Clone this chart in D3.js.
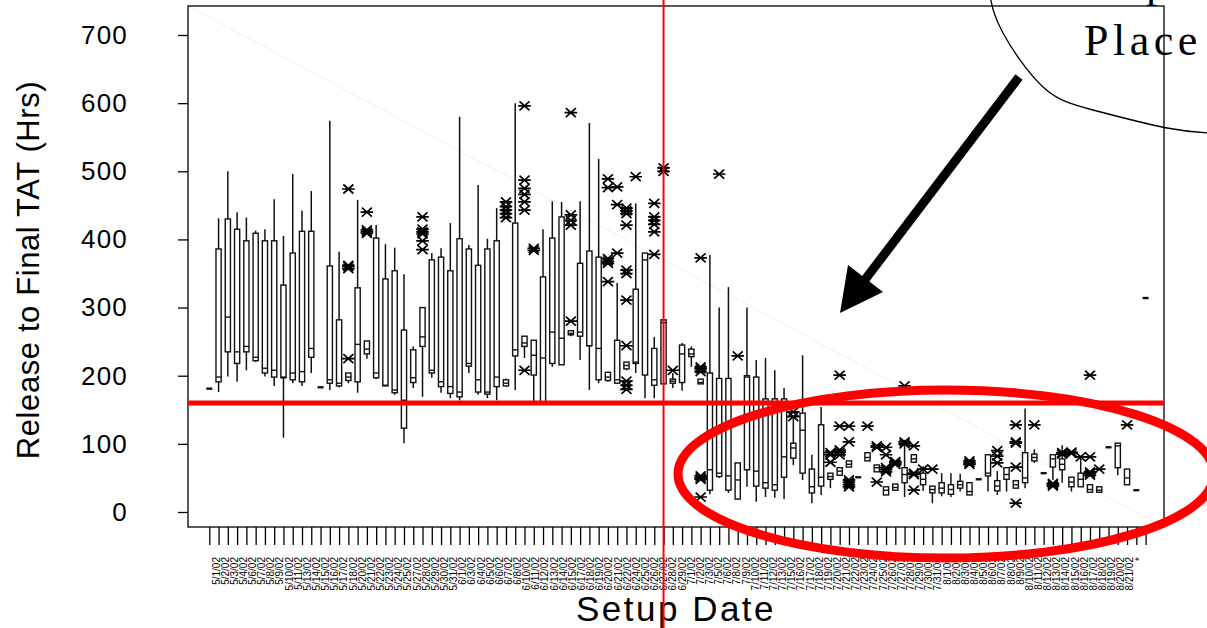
<!DOCTYPE html>
<html>
<head>
<meta charset="utf-8">
<script src="https://cdn.jsdelivr.net/npm/d3@7"></script>
<style>
body { margin: 0; background: #fff; }
svg { display: block; font-family: Arial, "Liberation Sans", sans-serif; }
</style>
</head>
<body>
<svg></svg>
<script>
const width = 1207;
const height = 628;

// Setup dates (x categories)
const dates = [
  "5/1/02","5/2/02","5/3/02","5/4/02","5/6/02","5/7/02","5/8/02","5/9/02","5/10/02","5/11/02",
  "5/13/02","5/14/02","5/15/02","5/16/02","5/17/02","5/18/02","5/20/02","5/21/02","5/22/02","5/23/02",
  "5/24/02","5/25/02","5/27/02","5/28/02","5/29/02","5/30/02","5/31/02",
  "6/1/02","6/3/02","6/4/02","6/5/02","6/6/02","6/7/02","6/8/02","6/10/02","6/11/02","6/12/02",
  "6/13/02","6/14/02","6/15/02","6/17/02","6/18/02","6/19/02","6/20/02","6/21/02","6/22/02","6/24/02",
  "6/25/02","6/26/02","6/27/02","6/28/02","6/29/02",
  "7/1/02","7/2/02","7/3/02","7/5/02","7/6/02","7/8/02","7/9/02","7/10/02","7/11/02","7/12/02",
  "7/13/02","7/15/02","7/16/02","7/17/02","7/18/02","7/19/02","7/20/02","7/21/02","7/22/02","7/23/02",
  "7/24/02","7/25/02","7/26/02","7/27/02","7/28/02","7/29/02","7/30/02","7/31/02",
  "8/1/02","8/2/02","8/3/02","8/4/02","8/5/02","8/6/02","8/7/02","8/8/02","8/9/02","8/10/02",
  "8/11/02","8/12/02","8/13/02","8/14/02","8/15/02","8/16/02","8/17/02","8/18/02","8/19/02","8/20/02",
  "8/21/02","*"
];

// box plot statistics, one value per date (hours)
const whiskerLow = [180,176,199,191,208,220,199,185,109,189,185,204,183,179,183,189,175,225,195,185,
  172,101,182,169,197,175,167,164,204,172,167,164,184,179,226,160,160,213,216,258,
  223,179,189,191,189,208,204,167,167,188,182,178,213,188,26,50,28,18,37,15,
  22,21,19,69,47,13,25,35,54,66,51,75,59,25,32,22,73,31,13,23,
  22,30,25,48,30,25,30,35,35,72,57,47,43,30,37,29,29,95,54,40,32,314];
const boxLow = [180,191,235,218,235,222,204,198,197,194,191,227,183,189,185,193,191,232,197,185,
  175,123,190,243,204,184,174,169,214,176,173,184,185,229,243,201,161,218,216,260,
  258,244,194,193,189,210,218,201,186,188,189,190,228,188,32,52,32,19,62,38,
  35,32,51,79,57,28,38,48,54,66,51,75,59,25,32,43,73,40,28,28,
  26,35,25,48,53,31,48,35,43,75,57,66,62,37,37,29,29,95,65,40,32,314];
const median = [181,198,286,235,243,227,211,208,198,204,206,240,183,194,189,198,246,239,204,186,
  179,164,197,257,208,191,184,176,218,194,176,198,189,238,248,230,226,264,255,262,
  264,244,240,198,194,215,220,370,194,278,192,232,232,190,62,57,53,47,198,60,
  43,40,81,94,120,37,51,52,60,70,51,80,65,32,36,55,78,48,33,35,
  33,40,30,48,57,38,55,40,50,80,57,78,70,44,48,33,32,95,97,50,32,314];
const boxHigh = [181,386,430,415,398,409,398,398,333,380,412,412,184,361,282,204,329,251,402,342,
  354,267,238,300,370,374,354,401,386,362,386,398,194,424,258,252,345,402,433,266,
  365,383,374,205,252,220,327,380,240,282,195,245,239,195,204,196,196,72,200,198,
  166,166,166,101,145,63,128,57,65,75,52,87,69,37,41,65,84,57,38,43,
  40,45,43,49,84,46,65,46,87,85,58,84,78,51,57,40,37,96,101,63,33,315];
const whiskerHigh = [181,431,500,440,432,413,415,459,405,496,442,471,184,574,382,204,458,251,421,393,
  388,349,243,300,380,387,424,580,392,480,401,446,196,600,258,252,415,456,455,266,
  456,571,518,205,336,220,453,380,257,282,204,248,243,195,377,300,330,72,300,223,
  226,208,182,138,230,84,154,57,65,75,52,87,69,37,41,106,84,67,38,57,
  57,56,43,49,84,60,66,46,152,92,58,84,98,51,81,40,37,96,101,63,33,315];

// outliers: [date index, values]
const outliers = [
  [15, [474,362,360,357,225]], [17, [440,414,411,409]], [23, [433,415,411,408,398,385]],
  [32, [455,448,443,438,432]], [34, [596,487,475,466,455,443,208]], [35, [387,384]],
  [39, [586,436,428,421,280]], [43, [489,476,372,368,365,338]], [44, [477,451,380]],
  [45, [446,442,438,421,355,350,311,244,192,186,180]], [46, [492]],
  [48, [453,433,428,422,411,378]], [49, [505,500]], [50, [208]],
  [53, [373,213,210,206,53,50,48,22]], [55, [496]], [57, [229]], [63, [147,140]],
  [67, [87,84,73]], [68, [201,126,91,88,84]], [69, [126,103,47,44,40,37]], [71, [126]],
  [72, [97,95,44]], [73, [95,84,65,62,59]], [74, [74,72,70]], [75, [185,103,100]],
  [76, [97,57,55,32]], [77, [63]], [78, [63]], [82, [75,72,70]], [85, [90,82,72]],
  [87, [128,103,101,66,13]], [89, [128]], [91, [42,40,38]], [92, [87,85]], [93, [88,86]],
  [94, [81]], [95, [201,81,59,57,54]], [96, [63]], [99, [128]]
];

const yTicks = [0, 100, 200, 300, 400, 500, 600, 700];
const targetTAT = 160;
const changeDate = "6/27/02";

const svg = d3.select("svg")
    .attr("width", width)
    .attr("height", height);

const frame = {left: 188, top: 6, right: 1164, bottom: 527};

const x = d3.scalePoint().domain(dates).range([209.3, 1145.6]);
const xLabel = d3.scalePoint().domain(dates).range([216, 1139]);
const y = d3.scaleLinear().domain([0, 700]).range([512, 35]);

// faint diagonal across the plot
svg.append("line")
    .attr("x1", frame.left).attr("y1", frame.top)
    .attr("x2", frame.right).attr("y2", frame.bottom)
    .attr("stroke", "#e6e6f0")
    .attr("stroke-width", 0.7);

// plot frame
svg.append("rect")
    .attr("x", frame.left).attr("y", frame.top)
    .attr("width", frame.right - frame.left)
    .attr("height", frame.bottom - frame.top)
    .attr("fill", "none")
    .attr("stroke", "#000")
    .attr("stroke-width", 1.3);

// y axis
const yAxis = svg.append("g")
    .attr("transform", `translate(${frame.left},0)`)
    .call(d3.axisLeft(y).tickValues(yTicks).tickSize(10).tickSizeOuter(0).tickPadding(50));
yAxis.select(".domain").remove();
yAxis.selectAll("line").attr("stroke-width", 1.3);
yAxis.selectAll("text")
    .attr("font-size", 26)
    .attr("font-family", "Arial, 'Liberation Sans', sans-serif")
    .attr("letter-spacing", 1.2)
    .attr("fill", "#000");

// x axis ticks
const xAxis = svg.append("g")
    .attr("transform", `translate(0,${frame.bottom})`)
    .call(d3.axisBottom(x).tickSize(18).tickSizeOuter(0).tickFormat(""));
xAxis.select(".domain").remove();
xAxis.selectAll("line").attr("stroke-width", 1.3);

// x tick labels
svg.append("g")
    .selectAll("text")
    .data(dates)
    .enter().append("text")
    .attr("transform", d => `translate(${xLabel(d)},557) rotate(-90)`)
    .attr("dy", "0.35em")
    .attr("text-anchor", "end")
    .attr("font-size", 10)
    .attr("fill", "#000")
    .text(d => d);

// axis titles
svg.append("text")
    .attr("transform", "translate(39,270) rotate(-90)")
    .attr("text-anchor", "middle")
    .attr("font-size", 31)
    .attr("letter-spacing", 0.6)
    .text("Release to Final TAT (Hrs)");

svg.append("text")
    .attr("x", 676)
    .attr("y", 621)
    .attr("text-anchor", "middle")
    .attr("font-size", 35)
    .attr("letter-spacing", 2.5)
    .text("Setup Date");

// box plots
const boxes = dates.map((d, i) => ({
    date: d, lo: whiskerLow[i], q1: boxLow[i], med: median[i], q3: boxHigh[i], hi: whiskerHigh[i]
}));

const bw = 5.2;
const box = svg.append("g").selectAll("g")
    .data(boxes)
    .enter().append("g")
    .attr("transform", d => `translate(${x(d.date)},0)`);

const full = box.filter(d => d.q3 - d.q1 > 1);
full.append("line")
    .attr("y1", d => y(d.lo)).attr("y2", d => y(d.hi))
    .attr("stroke", "#111").attr("stroke-width", 1.5);
full.append("rect")
    .attr("x", -bw / 2).attr("width", bw)
    .attr("y", d => y(d.q3))
    .attr("height", d => y(d.q1) - y(d.q3))
    .attr("fill", "#fff")
    .attr("stroke", "#111").attr("stroke-width", 1.4);
full.append("line")
    .attr("x1", -bw / 2).attr("x2", bw / 2)
    .attr("y1", d => y(d.med)).attr("y2", d => y(d.med))
    .attr("stroke", "#111").attr("stroke-width", 1.4);

box.filter(d => d.q3 - d.q1 <= 1).append("rect")
    .attr("x", -3).attr("width", 6)
    .attr("y", d => y(d.med) - 1.2)
    .attr("height", 2.4)
    .attr("fill", "#111");

// outlier asterisks
const outlierPoints = [];
outliers.forEach(([i, vals]) => vals.forEach(v => outlierPoints.push({date: dates[i], v})));
svg.append("g").selectAll("path")
    .data(outlierPoints)
    .enter().append("path")
    .attr("transform", d => `translate(${x(d.date)},${y(d.v)})`)
    .attr("d", "M-6.3,0H6.3M-5,-4.5L5,4.5M-5,4.5L5,-4.5")
    .attr("stroke", "#000")
    .attr("stroke-width", 1.7)
    .attr("fill", "none");

// target line
svg.append("line")
    .attr("x1", frame.left).attr("x2", frame.right)
    .attr("y1", y(targetTAT)).attr("y2", y(targetTAT))
    .attr("stroke", "#ff0000")
    .attr("stroke-width", 5);

// arrow annotation
svg.append("line")
    .attr("x1", 1019).attr("y1", 77)
    .attr("x2", 864).attr("y2", 281)
    .attr("stroke", "#000")
    .attr("stroke-width", 9);
svg.append("path")
    .attr("d", "M840,313L848,265L883,292Z")
    .attr("fill", "#000");

// callout bubble in the corner
svg.append("path")
    .attr("d", d3.line().curve(d3.curveNatural)([[990,-4],[1003,33],[1043,87],[1093,110],[1167,128],[1212,133]]))
    .attr("fill", "none")
    .attr("stroke", "#000")
    .attr("stroke-width", 1.3);
svg.append("text")
    .attr("x", 1146).attr("y", -3)
    .attr("font-family", "'Liberation Serif', 'Times New Roman', serif")
    .attr("font-size", 44)
    .text("p");
svg.append("text")
    .attr("x", 1084).attr("y", 55)
    .attr("font-family", "'Liberation Serif', 'Times New Roman', serif")
    .attr("font-size", 44)
    .attr("letter-spacing", 4.5)
    .text("Place");

// highlight ellipse
svg.append("ellipse")
    .attr("cx", 946).attr("cy", 474)
    .attr("rx", 268).attr("ry", 84)
    .attr("fill", "none")
    .attr("stroke", "#ff0000")
    .attr("stroke-width", 9);

// process change date
svg.append("line")
    .attr("x1", x(changeDate)).attr("x2", x(changeDate))
    .attr("y1", 0).attr("y2", height)
    .attr("stroke", "#ff0000")
    .attr("stroke-width", 2);
</script>
</body>
</html>
